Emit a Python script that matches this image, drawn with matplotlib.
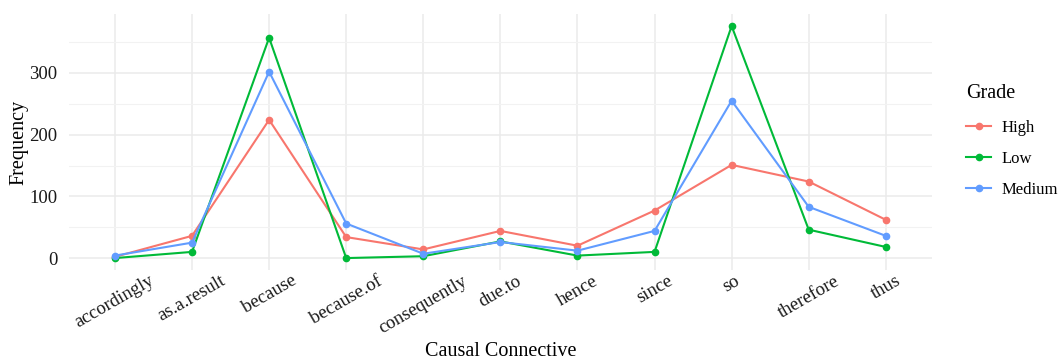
import matplotlib
matplotlib.use("Agg")
import matplotlib.pyplot as plt
from matplotlib.ticker import MultipleLocator
from matplotlib.lines import Line2D

categories = ["accordingly", "as.a.result", "because", "because.of", "consequently",
              "due.to", "hence", "since", "so", "therefore", "thus"]
high = [2, 36, 224, 34, 14, 44, 20, 77, 151, 124, 62]
low = [0, 10, 357, 0, 3, 27, 4, 10, 376, 46, 18]
medium = [4, 25, 302, 56, 7, 26, 12, 44, 255, 83, 36]

series = [("High", high, "#F8766D"), ("Low", low, "#00BA38"), ("Medium", medium, "#619CFF")]

plt.rcParams["font.family"] = ["Liberation Serif", "DejaVu Serif"]

fig = plt.figure(figsize=(10.6, 3.61), dpi=100)
ax = fig.add_axes([0.0648, 0.253, 0.8145, 0.707])

x = list(range(1, len(categories) + 1))
for name, vals, col in series:
    ax.plot(x, vals, color=col, lw=1.5, marker="o", ms=4.5, label=name, zorder=3)

ymax = max(max(high), max(low), max(medium))
ax.set_ylim(-0.05 * ymax, ymax * 1.05)
ax.set_xlim(0.4, len(categories) + 0.6)
ax.set_xticks(x)
ax.set_xticklabels(categories, rotation=30, ha="center", fontsize=13.5)
ax.yaxis.set_major_locator(MultipleLocator(100))
ax.yaxis.set_minor_locator(MultipleLocator(50))
ax.tick_params(axis="both", length=0, labelsize=13.5, colors="#1a1a1a")
ax.tick_params(axis="y", pad=8)
ax.tick_params(axis="x", pad=2)
ax.grid(which="major", color="#EBEBEB", lw=1.1, zorder=0)
ax.grid(which="minor", axis="y", color="#F2F2F2", lw=0.8, zorder=0)
ax.tick_params(which="minor", length=0)
for s in ax.spines.values():
    s.set_visible(False)

ax.set_xlabel("Causal Connective", fontsize=14.5, va="center")
ax.xaxis.set_label_coords(0.5, -0.322)
ax.set_ylabel("Frequency", fontsize=14.5, labelpad=1)

handles = [Line2D([0], [0], color=c, lw=1.5, marker="o", ms=4.5) for _, _, c in series]
leg = fig.legend(handles, [n for n, _, _ in series], title="Grade", loc="upper left",
                 bbox_to_anchor=(0.902, 0.794), frameon=False, fontsize=12,
                 title_fontsize=14.5, handlelength=1.5, labelspacing=0.9,
                 handletextpad=0.6, borderaxespad=0.2)
leg._legend_box.align = "left"
leg._legend_box.sep = 12

fig.savefig("out.png", dpi=100)
